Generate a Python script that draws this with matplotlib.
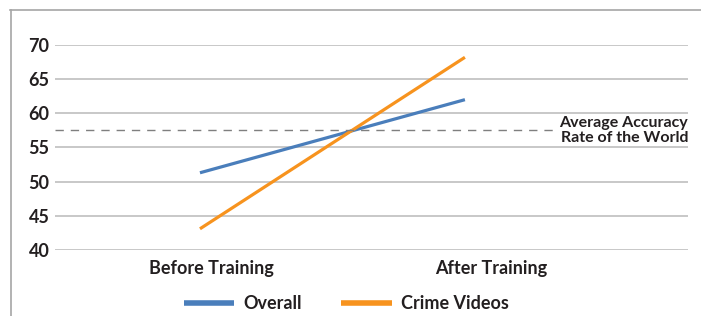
import matplotlib.pyplot as plt
from matplotlib.lines import Line2D

plt.rcParams['font.family'] = ['Lato', 'DejaVu Sans']

stages = ['Before Training', 'After Training']
overall = [51.3, 62.0]
crime_videos = [43.1, 68.2]
world_average = 57.5
yticks = [40, 45, 50, 55, 60, 65, 70]

text_color = '#231f20'
grid_color = '#bfbfbf'


def main():
    fig = plt.figure(figsize=(7.01, 3.16), dpi=100)
    ax = fig.add_axes([0.0785, 0.2089, 0.903, 0.6487])

    x = list(range(len(stages)))
    ax.plot(x, overall, color='#4a7ebb', lw=2.3, label='Overall', solid_capstyle='butt')
    ax.plot(x, crime_videos, color='#f7931e', lw=2.3, label='Crime Videos', solid_capstyle='butt')

    ax.axhline(world_average, xmin=0, xmax=0.79, color='#7f7f7f', lw=1, dashes=(6, 5))
    ax.text(1.842, world_average, 'Average Accuracy\nRate of the World', ha='right', va='center',
            fontsize=11.5, color=text_color, linespacing=1.1, fontweight='bold')

    ax.set_xlim(-0.547, 1.842)
    ax.set_ylim(40, 70)
    ax.set_yticks(yticks)
    ax.grid(axis='y', color=grid_color, lw=1.2)
    ax.set_axisbelow(True)
    for s in ax.spines.values():
        s.set_visible(False)

    ax.set_xticks([0.042, 1.098])
    ax.set_xticklabels(stages)
    ax.tick_params(axis='both', length=0, labelsize=13, labelcolor=text_color)
    ax.tick_params(axis='y', pad=4)
    ax.tick_params(axis='x', pad=7)
    for lbl in ax.get_xticklabels() + ax.get_yticklabels():
        lbl.set_fontweight('bold')

    leg = fig.legend(loc='center', bbox_to_anchor=(0.494, 0.04), ncol=2, frameon=False,
                     handlelength=2.8, columnspacing=2.2, handletextpad=0.5,
                     prop={'size': 13, 'weight': 'bold'})
    for t in leg.get_texts():
        t.set_color(text_color)
    for h in leg.legend_handles:
        h.set_linewidth(4)

    # border around chart
    fig.add_artist(Line2D([10 / 701, 1], [1 - 10 / 316, 1 - 10 / 316], color='#a6a6a6', lw=1.2))
    fig.add_artist(Line2D([11 / 701, 11 / 701], [0, 1 - 10 / 316], color='#a6a6a6', lw=1.2))

    fig.savefig('out.png', dpi=100)


if __name__ == "__main__":
    main()
